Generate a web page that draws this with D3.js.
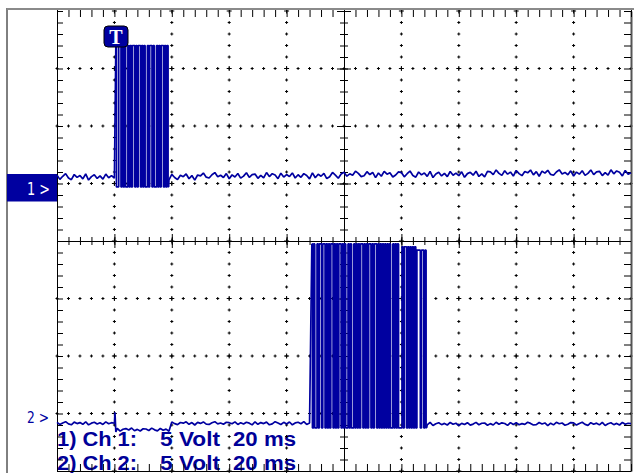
<!DOCTYPE html>
<html>
<head>
<meta charset="utf-8">
<script src="https://cdn.jsdelivr.net/npm/d3@7"></script>
<style>
  body { margin: 0; background: #fff; }
  svg { display: block; }
</style>
</head>
<body>
<svg id="scope" width="634" height="473"></svg>
<script>
// screen: 10 div x 20 ms, 8 div x 5 V. noise samples every 1 ms (t = 0..200)
var ch1Noise = [
  0.73,0.36,0.63,0.86,0.48,0.33,0.78,0.53,0.70,0.40,0.83,0.30,0.60,0.76,0.44,0.66,0.38,0.82,0.50,0.68,
  0.46,0.80,0.32,0.64,0.75,0.50,0.85,0.39,0.61,0.35,0.72,0.67,0.43,0.84,0.54,0.37,0.77,0.47,0.65,0.31,
  0.79,0.52,0.34,0.71,0.59,0.83,0.41,0.69,0.29,0.74,0.66,0.91,0.55,0.48,0.76,0.95,0.59,0.72,0.52,0.86,
  0.41,0.75,0.57,0.87,0.47,0.64,0.94,0.53,0.77,0.82,0.45,0.71,0.49,0.95,0.60,0.85,0.74,0.42,0.90,0.56,
  0.78,0.60,0.92,0.48,0.76,0.54,0.86,0.70,0.40,0.93,0.50,0.80,0.63,0.88,0.43,0.58,0.96,0.73,0.46,0.83,
  0.98,0.64,0.84,0.71,1.07,0.88,0.60,0.67,1.03,0.78,0.96,0.51,0.91,0.63,1.05,0.81,0.93,0.56,0.74,1.01,
  0.95,0.58,0.85,1.08,0.70,0.55,1.00,0.75,0.92,0.62,1.05,0.52,0.82,0.98,0.66,0.88,0.60,1.04,0.72,0.90,
  0.68,1.02,0.54,0.86,0.97,0.72,1.07,0.61,0.83,0.57,1.06,1.01,0.77,1.18,0.88,0.71,1.11,0.81,0.99,0.65,
  1.13,0.86,0.68,1.05,0.93,1.17,0.75,1.03,0.63,1.08,0.90,1.15,0.79,0.72,1.00,1.19,0.83,0.96,0.76,1.10,
  0.65,0.99,0.81,1.11,0.71,0.88,1.18,0.77,1.01,1.06,0.69,0.95,0.73,1.19,0.84,1.09,0.98,0.66,1.14,0.80,
  0.94
];
var ch2Noise = [
  -0.77,-0.96,-0.82,-0.71,-0.90,-0.98,-0.75,-0.88,-0.79,-0.94,-0.72,-0.99,-0.84,-0.76,-0.92,-0.81,-0.95,-0.73,-0.89,-0.80,
  -0.85,-1.29,-1.53,-1.37,-1.31,-1.44,-1.26,-1.50,-1.38,-1.52,-1.33,-1.35,-1.48,-1.27,-1.42,-1.51,-1.30,-1.46,-1.36,-1.54,
  -0.74,-0.88,-0.97,-0.78,-0.84,-0.72,-0.94,-0.79,-1.00,-0.77,-0.86,-0.73,-0.92,-0.95,-0.81,-0.71,-0.90,-0.83,-0.93,-0.76,
  -0.80,-0.89,-0.73,-0.95,-0.81,-0.92,-0.76,-0.84,-0.99,-0.72,-0.94,-0.79,-0.88,-0.75,-0.98,-0.90,-0.71,-0.82,-0.96,-0.77,
  -0.91,-0.74,-0.98,-0.82,-0.76,-0.89,-0.71,-0.95,-0.83,-0.97,-0.78,-0.80,-0.93,-0.72,-0.87,-0.96,-0.75,-0.91,-0.81,-0.99,
  -0.74,-0.88,-0.97,-0.78,-0.84,-0.72,-0.94,-0.79,-1.00,-0.77,-0.86,-0.73,-0.92,-0.95,-0.81,-0.71,-0.90,-0.83,-0.93,-0.76,
  -0.82,-1.01,-0.87,-0.76,-0.95,-1.03,-0.80,-0.93,-0.84,-0.99,-0.77,-1.04,-0.89,-0.81,-0.97,-0.86,-1.00,-0.78,-0.94,-0.85,
  -1.04,-0.86,-0.96,-0.80,-1.01,-0.92,-0.77,-0.98,-0.85,-0.83,-1.02,-0.88,-1.00,-0.76,-0.94,-0.81,-0.87,-1.03,-0.79,-0.96,
  -0.81,-0.98,-0.88,-0.95,-0.76,-0.86,-1.00,-0.97,-0.78,-0.91,-0.82,-1.05,-0.84,-0.99,-0.77,-0.89,-0.83,-1.02,-0.93,-0.79,
  -0.82,-1.01,-0.87,-0.76,-0.95,-1.03,-0.80,-0.93,-0.84,-0.99,-0.77,-1.04,-0.89,-0.81,-0.97,-0.86,-1.00,-0.78,-0.94,-0.85,
  -0.88
];

// bursts: one char per sample, 0.4 ms apart
var burstStep = 0.4;
var ch1BurstStart = 20.5;
var ch1BurstBits = "1001101010" + "0101011010" + "1101010010" + "1101001010" + "1101010";
var ch1Levels = { low: -0.3, high: [[20.5, 12.0]] };
var ch2BurstStart = 88.8;
var ch2BurstBits = "1010010110" + "1101010110" + "1010110101" + "0010100101" + "0101101010" +
                   "1101011010" + "1010101010" + "0101010001" + "0110101010" + "10111011010";
var ch2Levels = { low: -1.25, high: [[88.8, 14.75], [119.5, 14.5], [125.5, 14.2]] };
var ch2Spike = [[20.2, 0.1], [20.5, -1.6]];

var groundDiv = [1, -3];        // channel ground positions in divisions
var voltsPerDiv = 5;
var captionRows = [["1) Ch 1:", "5 Volt", "20 ms"], ["2) Ch 2:", "5 Volt", "20 ms"]];

var blue = "#0000a0";
var svg = d3.select('#scope');

var x = d3.scaleLinear().domain([0, 200]).range([57, 631]);
var y = d3.scaleLinear().domain([-4, 4]).range([471, 11]);

var majorX = d3.range(0, 201, 20);
var minorX = d3.range(0, 201, 4);
var majorY = d3.range(-4, 5, 1);
var minorY = d3.range(-20, 21).map(function (d) { return d / 5; });

// left channel panel
svg.append('line').attr('x1', 7).attr('x2', 7).attr('y1', 8).attr('y2', 473)
    .attr('stroke', '#000').attr('stroke-width', 1);

// captions (grid sits on top of them)
var capX = [57, 160, 233], capW = [80, 60, 63], capBase = [446, 470];
captionRows.forEach(function (row, r) {
    row.forEach(function (s, i) {
        svg.append('text')
            .attr('x', capX[i]).attr('y', capBase[r])
            .attr('textLength', capW[i]).attr('lengthAdjust', 'spacingAndGlyphs')
            .style('font-family', 'Liberation Sans, Arial, sans-serif')
            .style('font-weight', 'bold').style('font-size', '20px')
            .attr('fill', '#000098')
            .text(s);
    });
});

// dotted grid
function cross(px, py, a) {
    return 'M' + (px - a) + ',' + py + 'h' + (2 * a) + 'M' + px + ',' + (py - a) + 'v' + (2 * a);
}
var dots = '';
majorX.forEach(function (t) {
    if (t === 0 || t === 200 || t === 100) return;
    minorY.forEach(function (d) { dots += cross(x(t), y(d), Number.isInteger(d) ? 2.5 : 1.5); });
});
majorY.forEach(function (d) {
    if (d === -4 || d === 4 || d === 0) return;
    minorX.forEach(function (t) { dots += cross(x(t), y(d), 1.5); });
});
svg.append('path').attr('d', dots).attr('stroke', '#000').attr('stroke-width', 1).attr('fill', 'none');

function clean(g) { g.selectAll('text').remove(); }

// centre lines with crossing ticks
[d3.axisBottom, d3.axisTop].forEach(function (ax) {
    svg.append('g').attr('transform', 'translate(0,' + y(0) + ')')
        .call(ax(x).tickValues(minorX).tickSize(4).tickSizeOuter(0)).call(clean);
    svg.append('g').attr('transform', 'translate(0,' + y(0) + ')')
        .call(ax(x).tickValues(majorX).tickSize(7).tickSizeOuter(0)).call(clean);
});
[d3.axisLeft, d3.axisRight].forEach(function (ax) {
    svg.append('g').attr('transform', 'translate(' + x(100) + ',0)')
        .call(ax(y).tickValues(minorY).tickSize(4).tickSizeOuter(0)).call(clean);
    svg.append('g').attr('transform', 'translate(' + x(100) + ',0)')
        .call(ax(y).tickValues(majorY).tickSize(7).tickSizeOuter(0)).call(clean);
});

// frame ticks pointing inward
svg.append('g').attr('transform', 'translate(57,0)')
    .call(d3.axisRight(y).tickValues(minorY).tickSize(6).tickSizeOuter(0)).call(clean);
svg.append('g').attr('transform', 'translate(631,0)')
    .call(d3.axisLeft(y).tickValues(minorY).tickSize(7).tickSizeOuter(0)).call(clean)
    .select('.domain').attr('stroke', '#555').attr('stroke-width', 2);
svg.append('g').attr('transform', 'translate(0,10)')
    .call(d3.axisBottom(x).tickValues(minorX).tickSize(7).tickSizeOuter(0)).call(clean)
    .select('.domain').remove();
svg.append('g').attr('transform', 'translate(0,471)')
    .call(d3.axisTop(x).tickValues(minorX).tickSize(7).tickSizeOuter(0)).call(clean);
svg.append('line').attr('x1', 7).attr('x2', 634).attr('y1', 9).attr('y2', 9)
    .attr('stroke', '#8a8a8a').attr('stroke-width', 2);

// traces: noise drawn as straight segments, the digital burst as steps
function highAt(steps, t) {
    var v = steps[0][1];
    steps.forEach(function (s) { if (t >= s[0]) v = s[1]; });
    return v;
}
function traceParts(noise, bStart, bits, levels, extra) {
    var bEnd = bStart + (bits.length - 1) * burstStep;
    var pre = [], post = [], burst = [];
    noise.forEach(function (v, t) {
        if (t < bStart) pre.push([t, v]);
        else if (t > bEnd) post.push([t, v]);
    });
    (extra || []).forEach(function (p) { (p[0] < bStart ? pre : post).push(p); });
    pre.sort(function (a, b) { return a[0] - b[0]; });
    post.sort(function (a, b) { return a[0] - b[0]; });
    bits.split('').forEach(function (b, i) {
        var t = bStart + i * burstStep;
        burst.push([t, b === '1' ? highAt(levels.high, t) : levels.low]);
    });
    return [
        { pts: pre.concat([burst[0]]), curve: d3.curveLinear },
        { pts: burst, curve: d3.curveStep },
        { pts: [burst[burst.length - 1]].concat(post), curve: d3.curveLinear }
    ];
}
var traces = [
    traceParts(ch1Noise, ch1BurstStart, ch1BurstBits, ch1Levels),
    traceParts(ch2Noise, ch2BurstStart, ch2BurstBits, ch2Levels, ch2Spike)
];
traces.forEach(function (parts, c) {
    parts.forEach(function (part) {
        var line = d3.line()
            .curve(part.curve)
            .x(function (d) { return x(d[0]); })
            .y(function (d) { return y(groundDiv[c] + d[1] / voltsPerDiv); });
        svg.append('path').datum(part.pts).attr('d', line)
            .attr('fill', 'none').attr('stroke', blue).attr('stroke-width', 1.7)
            .attr('stroke-linejoin', 'bevel');
    });
});

// channel markers
var markerFont = 'Liberation Sans Narrow, DejaVu Sans Condensed, sans-serif';
svg.append('rect').attr('x', 7).attr('y', 174).attr('width', 50).attr('height', 27.5).attr('fill', blue);
svg.append('text').attr('x', 27).attr('y', 195).attr('textLength', 23).attr('lengthAdjust', 'spacingAndGlyphs')
    .style('font-family', markerFont).style('font-size', '18px')
    .attr('fill', '#fff').text('1 >');
svg.append('text').attr('x', 27).attr('y', 423).attr('textLength', 22).attr('lengthAdjust', 'spacingAndGlyphs')
    .style('font-family', markerFont).style('font-size', '16px')
    .attr('fill', blue).text('2 >');

// trigger marker
svg.append('rect').attr('x', 104).attr('y', 26).attr('width', 24).attr('height', 21).attr('rx', 4)
    .attr('fill', blue).attr('stroke', '#000').attr('stroke-width', 1);
svg.append('text').attr('x', 116).attr('y', 44).attr('text-anchor', 'middle')
    .style('font-family', 'Liberation Serif, Times New Roman, serif').style('font-weight', 'bold')
    .style('font-size', '20px').attr('fill', '#fff').text('T');
</script>
</body>
</html>
